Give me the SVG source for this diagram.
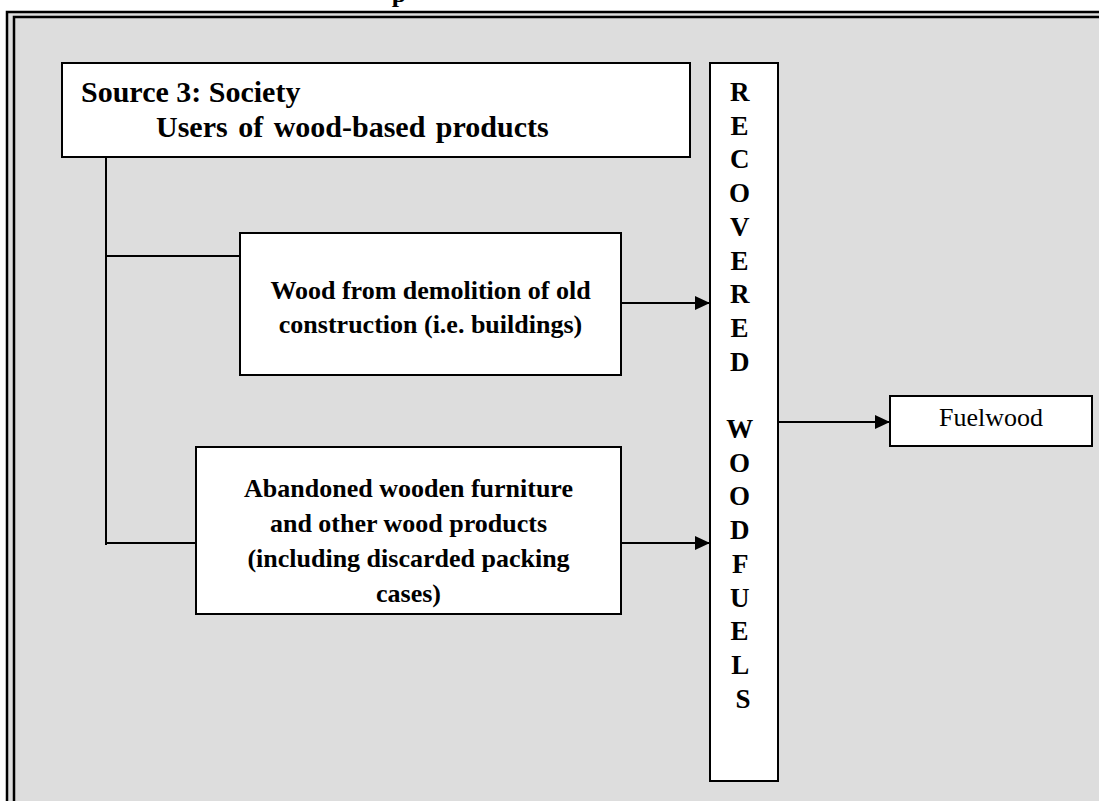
<svg xmlns="http://www.w3.org/2000/svg" width="1099" height="801" viewBox="0 0 1099 801">
  <defs>
    <marker id="arrow" markerWidth="16" markerHeight="14" refX="15" refY="7" orient="auto" markerUnits="userSpaceOnUse">
      <path d="M0,0 L15,7 L0,14 Z" fill="#000"/>
    </marker>
    <style>
      .box { fill: #fff; stroke: #000; stroke-width: 2; }
      .bold { font-family: "Liberation Serif", "Times New Roman", serif; font-weight: bold; font-size: 26px; fill: #000; }
      .head { font-size: 30px; }
      .letters { font-size: 27px; }
      .plain { font-family: "Liberation Serif", "Times New Roman", serif; font-size: 26px; fill: #000; }
      .line { stroke: #000; stroke-width: 2; fill: none; }
      .frame { stroke: #000; stroke-width: 2.5; fill: none; }
    </style>
  </defs>

  <rect x="0" y="0" width="1099" height="801" fill="#fff"/>

  <!-- title, cut at the top edge -->
  <text class="bold" x="399" y="2" text-anchor="middle">p</text>

  <!-- double-ruled frame (open at right and bottom) -->
  <rect x="7" y="12" width="1100" height="800" fill="#dddddd"/>
  <path class="frame" d="M7,801 V12 H1099"/>
  <path class="frame" d="M14,801 V17 H1099"/>

  <!-- connectors -->
  <g id="connectors">
    <path class="line" d="M106,157 V545"/>
    <path class="line" d="M106,256 H240"/>
    <path class="line" d="M106,543 H196"/>
    <path class="line" d="M621,303 H710" marker-end="url(#arrow)"/>
    <path class="line" d="M621,543 H710" marker-end="url(#arrow)"/>
    <path class="line" d="M778,422 H890" marker-end="url(#arrow)"/>
  </g>

  <g id="society">
    <rect class="box" x="62" y="63" width="628" height="94"/>
    <text class="bold head" x="81" y="102">Source 3: Society</text>
    <text class="bold head" x="156" y="137" word-spacing="3">Users of wood-based products</text>
  </g>

  <g id="demolition">
    <rect class="box" x="240" y="233" width="381" height="142"/>
    <text class="bold" x="430.5" y="299" text-anchor="middle">Wood from demolition of old</text>
    <text class="bold" x="430.5" y="333" text-anchor="middle">construction (i.e. buildings)</text>
  </g>

  <g id="furniture">
    <rect class="box" x="196" y="447" width="425" height="167"/>
    <text class="bold" x="408.5" y="497" text-anchor="middle">Abandoned wooden furniture</text>
    <text class="bold" x="408.5" y="532" text-anchor="middle">and other wood products</text>
    <text class="bold" x="408.5" y="567" text-anchor="middle">(including discarded packing</text>
    <text class="bold" x="408.5" y="602" text-anchor="middle">cases)</text>
  </g>

  <g id="recovered">
    <rect class="box" x="710" y="63" width="68" height="718"/>
    <text class="bold letters" text-anchor="middle">
      <tspan x="743" y="101">R</tspan>
      <tspan x="743" y="134.7">E</tspan>
      <tspan x="743" y="168.4">C</tspan>
      <tspan x="743" y="202.1">O</tspan>
      <tspan x="743" y="235.8">V</tspan>
      <tspan x="743" y="269.5">E</tspan>
      <tspan x="743" y="303.2">R</tspan>
      <tspan x="743" y="336.9">E</tspan>
      <tspan x="743" y="370.6">D</tspan>
      <tspan x="743" y="438">W</tspan>
      <tspan x="743" y="471.7">O</tspan>
      <tspan x="743" y="505.4">O</tspan>
      <tspan x="743" y="539.1">D</tspan>
      <tspan x="743" y="572.8">F</tspan>
      <tspan x="743" y="606.5">U</tspan>
      <tspan x="743" y="640.2">E</tspan>
      <tspan x="743" y="673.9">L</tspan>
      <tspan x="743" y="707.6">S</tspan>
    </text>
  </g>

  <g id="fuelwood">
    <rect class="box" x="890" y="396" width="202" height="50"/>
    <text class="plain" x="991" y="426" text-anchor="middle">Fuelwood</text>
  </g>
</svg>
